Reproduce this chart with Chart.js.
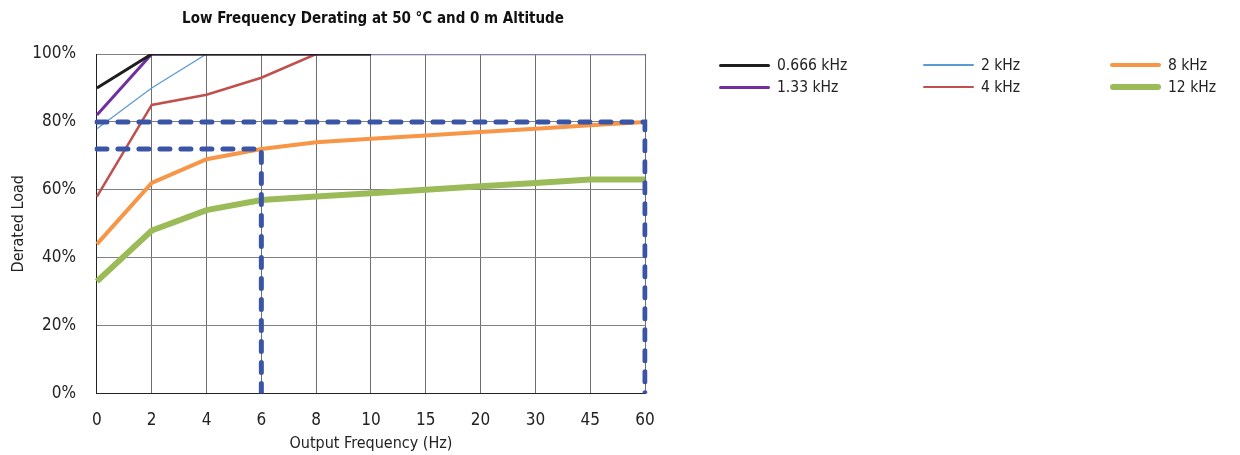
<!DOCTYPE html>
<html>
<head>
<meta charset="utf-8">
<script src="https://cdn.jsdelivr.net/npm/chart.js@4"></script>
<style>
  body { margin: 0; background: #fff; font-family: "DejaVu Sans Condensed", sans-serif; }
  #wrap { position: relative; width: 1240px; height: 455px; }
  #chartBox { position: absolute; left: 0; top: 0; width: 746px; height: 455px; }
  #title { position: absolute; left: 173px; width: 400px; top: 9px; text-align: center; font-size: 15px; font-weight: bold; color: #111; }
  #legend { position: absolute; left: 719px; top: 56px; width: 520px; }
  .item { position: absolute; display: flex; align-items: center; font-size: 15.5px; color: #222; white-space: nowrap; }
  .swatch { width: 51px; margin-right: 7px; border-radius: 3px; }
</style>
</head>
<body>
<div id="wrap">
  <div id="chartBox"><canvas id="deratingChart"></canvas></div>
  <div id="title">Low Frequency Derating at 50 °C and 0 m Altitude</div>
  <div id="legend"></div>
</div>
<script>
// values
const freqLabels = ['0', '2', '4', '6', '8', '10', '15', '20', '30', '45', '60'];
const load0666 = [90, 100, 100, 100, 100, 100, null, null, null, null, null];
const load133  = [82, 100, 100, 100, 100, 100, null, null, null, null, null];
const load2    = [78, 90, 100, 100, 100, 100, 100, 100, 100, 100, 100];
const load4    = [58, 85, 88, 93, 100, 100, 100, 100, 100, 100, 100];
const load8    = [44, 62, 69, 72, 74, 75, 76, 77, 78, 79, 80];
const load12   = [33, 48, 54, 57, 58, 59, 60, 61, 62, 63, 63];
const yTicks   = [0, 20, 40, 60, 80, 100];

// dashed guide lines (reading at 6 Hz and 60 Hz)
const guide6  = [{ x: '0', y: 72 }, { x: '6', y: 72 }, { x: '6', y: 0 }];
const guide60 = [{ x: '0', y: 80 }, { x: '60', y: 80 }, { x: '60', y: 0 }];

const FONT = "'DejaVu Sans Condensed', sans-serif";

const series = [
  { label: '0.666 kHz', data: load0666, color: '#1e1e1e', width: 3 },
  { label: '1.33 kHz',  data: load133,  color: '#7030a0', width: 3 },
  { label: '2 kHz',     data: load2,    color: '#5b9bd5', width: 1.3 },
  { label: '4 kHz',     data: load4,    color: '#c0504d', width: 2.5 },
  { label: '8 kHz',     data: load8,    color: '#f79646', width: 4 },
  { label: '12 kHz',    data: load12,   color: '#9bbb59', width: 6 }
];

// lower order is painted on top
const datasets = series.map((s, i) => ({
  label: s.label,
  data: s.data,
  borderColor: s.color,
  backgroundColor: s.color,
  borderWidth: s.width,
  pointRadius: 0,
  tension: 0,
  order: i + 1
}));

[guide6, guide60].forEach(g => {
  datasets.push({
    label: 'guide',
    data: g,
    borderColor: '#3a55a5',
    borderWidth: 5,
    borderDash: [10, 11],
    borderCapStyle: 'round',
    pointRadius: 0,
    order: 0
  });
});

// chart.js reserves tick padding twice, the negative title paddings take that back
new Chart(document.getElementById('deratingChart'), {
  type: 'line',
  data: { labels: freqLabels, datasets: datasets },
  options: {
    responsive: true,
    maintainAspectRatio: false,
    animation: false,
    layout: { padding: { left: 9, right: 101, top: 54, bottom: 2 } },
    plugins: {
      legend: { display: false },
      tooltip: { enabled: false }
    },
    scales: {
      x: {
        type: 'category',
        offset: false,
        grid: { color: '#6e6e6e', lineWidth: 1, drawTicks: false },
        border: { color: '#222', width: 1 },
        ticks: { color: '#222', font: { family: FONT, size: 17 }, padding: 17, maxRotation: 0 },
        title: { display: true, text: 'Output Frequency (Hz)', color: '#222', font: { family: FONT, size: 16 }, padding: { top: -14, bottom: 0 } }
      },
      y: {
        min: 0,
        max: 100,
        afterBuildTicks: axis => { axis.ticks = yTicks.map(v => ({ value: v })); },
        grid: { color: '#808080', lineWidth: 1, drawTicks: false },
        border: { color: '#222', width: 1 },
        ticks: { color: '#222', font: { family: FONT, size: 17 }, padding: 21, callback: v => v + '%' },
        title: { display: true, text: 'Derated Load', color: '#222', font: { family: FONT, size: 16 }, padding: { top: 0, bottom: -17 } }
      }
    }
  }
});

// legend laid out 3 columns x 2 rows like the reference
const legendBox = document.getElementById('legend');
const colX = [0, 204, 391];
series.forEach((s, i) => {
  const col = Math.floor(i / 2), row = i % 2;
  const el = document.createElement('div');
  el.className = 'item';
  el.style.left = colX[col] + 'px';
  el.style.top = (row * 22) + 'px';
  const sw = document.createElement('span');
  sw.className = 'swatch';
  sw.style.height = Math.max(s.width, 1.5) + 'px';
  sw.style.background = s.color;
  el.appendChild(sw);
  el.appendChild(document.createTextNode(s.label));
  legendBox.appendChild(el);
});
</script>
</body>
</html>
